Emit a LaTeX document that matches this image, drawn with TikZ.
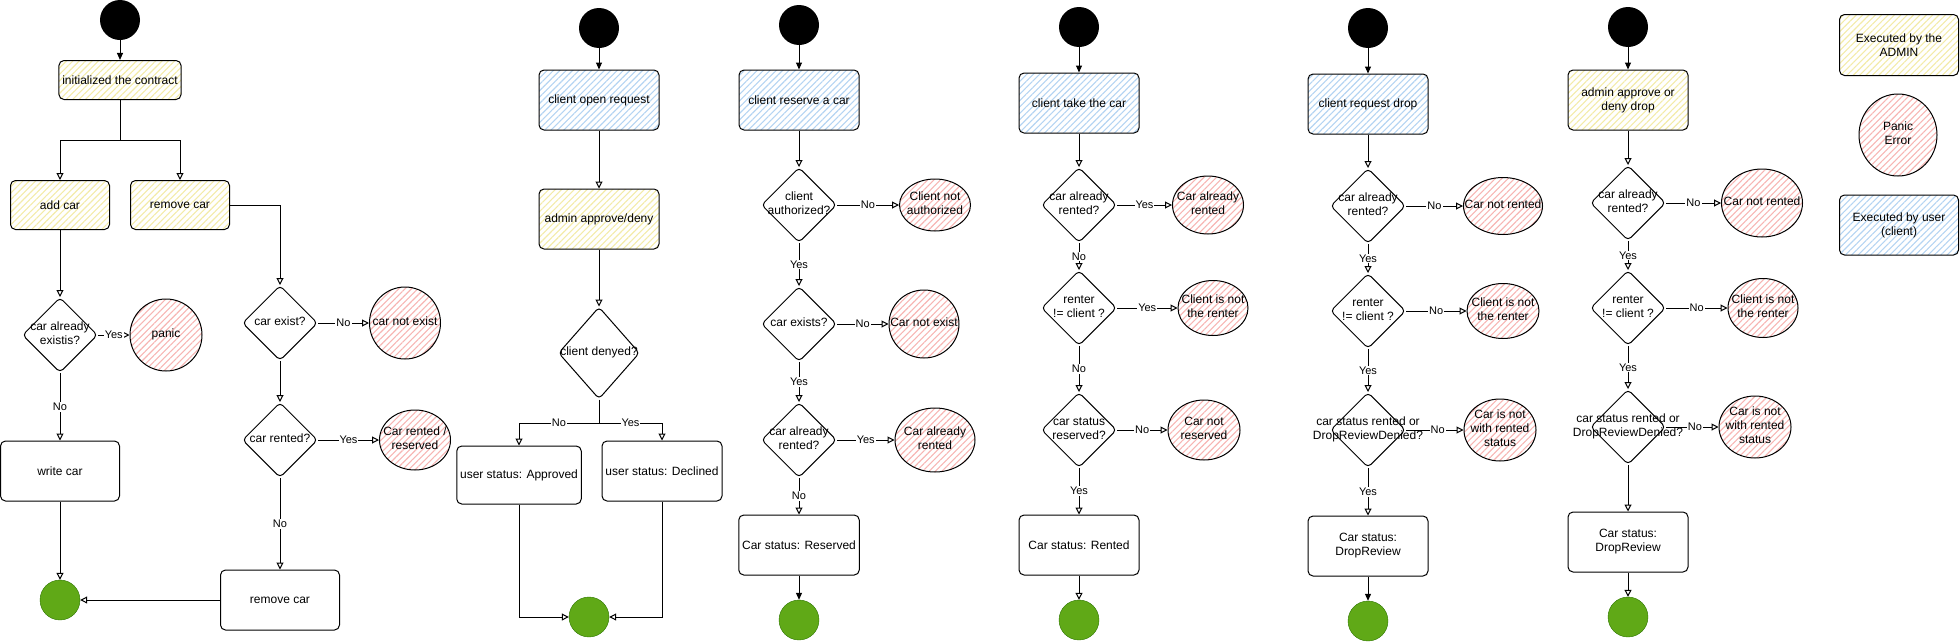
\documentclass[tikz,border=0pt]{standalone}
\usepackage{fontspec}
\setmainfont{Liberation Sans}
\usetikzlibrary{shapes.geometric, arrows.meta, patterns.meta}

\definecolor{admline}{HTML}{F3EBA8}
\definecolor{usrline}{HTML}{B4D4F2}
\definecolor{errline}{HTML}{F7B5B3}
\definecolor{endfill}{HTML}{60A917}
\definecolor{endline}{HTML}{2D7600}

% text that does not widen its shape
\newcommand{\ctext}[1]{\makebox[0pt]{\begin{tabular}{@{}c@{}}#1\end{tabular}}}

\tikzset{
  box/.style={rectangle, draw, rounded corners=5, line width=1pt, minimum width=120, minimum height=60, align=center},
  adminbox/.style={box, pattern={Lines[angle=45, distance=4.5pt, line width=1.1pt]}, pattern color=admline},
  userbox/.style={box, pattern={Lines[angle=45, distance=4.5pt, line width=1.1pt]}, pattern color=usrline},
  decision/.style={diamond, draw, rounded corners=4, line width=1pt, minimum width=75, minimum height=75, inner sep=0pt},
  panicnode/.style 2 args={ellipse, draw, line width=1pt, inner sep=0pt, minimum width=#1, minimum height=#2,
    pattern={Lines[angle=45, distance=4.5pt, line width=1.1pt]}, pattern color=errline},
  initnode/.style={circle, fill=black, minimum size=40, inner sep=0pt},
  finalnode/.style={circle, draw=endline, fill=endfill, minimum size=40, inner sep=0pt},
  flow/.style={line width=1pt, -{Triangle[open, length=7pt, width=7pt]}},
  initflow/.style={line width=1pt, -{Triangle[length=7pt, width=6pt]}},
  lbl/.style={fill=white, inner sep=1pt, font=\fontsize{11}{12}\selectfont}
}

\begin{document}
\begin{tikzpicture}[x=1pt, y=-1pt, every node/.append style={font=\fontsize{12}{14}\selectfont}]
  \useasboundingbox (0, 0) rectangle (1960, 643);

  % add / remove car
  \node (S1) [initnode] at (120, 20) {};
  \node (INIT) [adminbox, minimum width=121, minimum height=39] at (120, 80) {initialized the contract};
  \coordinate (FORK1) at (120, 140);
  \node (ADD) [adminbox, minimum width=99, minimum height=49] at (60, 205) {add car};
  \node (RMV) [adminbox, minimum width=99, minimum height=49] at (180, 205) {remove car};
  \node (Q1) [decision] at (60, 335) {\ctext{car already\\existis?}};
  \node (E1) [panicnode={72}{72}] at (166, 335) {\ctext{panic}};
  \node (WRITE) [box, minimum width=119] at (60, 471) {write car};
  \node (END1) [finalnode] at (60, 600) {};
  \node (Q2) [decision] at (280, 323) {\ctext{car exist?}};
  \node (E2) [panicnode={71}{72}] at (405, 323) {\ctext{car not exist}};
  \node (Q3) [decision] at (280, 440) {\ctext{car rented?}};
  \node (E3) [panicnode={71}{60}] at (415, 440) {\ctext{Car rented /\\reserved}};
  \node (RMV2) [box, minimum width=119] at (280, 600) {remove car};

  \draw (S1) edge[initflow] (INIT);
  \draw[line width=1pt] (INIT) -- (FORK1);
  \draw[flow] (FORK1) -| (ADD);
  \draw[flow] (FORK1) -| (RMV);
  \draw (ADD) edge[flow] (Q1);
  \draw[flow] (RMV.east) -| (Q2);
  \draw (Q1) edge[flow] node[lbl] {Yes} (E1);
  \draw (Q1) edge[flow] node[lbl] {No} (WRITE);
  \draw (WRITE) edge[flow] (END1);
  \draw (Q2) edge[flow] node[lbl] {No} (E2);
  \draw (Q2) edge[flow] (Q3);
  \draw (Q3) edge[flow] node[lbl] {Yes} (E3);
  \draw (Q3) edge[flow] node[lbl] {No} (RMV2);
  \draw (RMV2) edge[flow] (END1);

  % client open request
  \node (S2) [initnode] at (599, 28) {};
  \node (OPEN) [userbox] at (599, 100) {client open request};
  \node (APPR) [adminbox] at (599, 219) {admin approve/deny};
  \node (Q4) [decision, minimum width=81, minimum height=92] at (599, 353) {\ctext{client denyed?}};
  \coordinate (FORK2) at (599, 423);
  \node (APPROVED) [box, minimum height=58] at (519, 475) {user status: Approved};
  \node (DECLINED) [box] at (662, 471) {user status: Declined};
  \node (END2) [finalnode] at (589, 617) {};

  \draw (S2) edge[initflow] (OPEN);
  \draw (OPEN) edge[flow] (APPR);
  \draw (APPR) edge[flow] (Q4);
  \draw[line width=1pt] (Q4) -- (FORK2);
  \draw[flow] (FORK2) -| node[lbl, pos=0.25] {No} (APPROVED);
  \draw[flow] (FORK2) -| node[lbl, pos=0.25] {Yes} (DECLINED);
  \draw[flow] (APPROVED) |- (END2);
  \draw[flow] (DECLINED) |- (END2);

  % client reserve a car
  \node (S3) [initnode] at (799, 25) {};
  \node (RESERVE) [userbox] at (799, 100) {client reserve a car};
  \node (Q5) [decision] at (799, 205) {\ctext{client\\authorized?}};
  \node (E5) [panicnode={71}{52}] at (935, 205) {\ctext{Client not\\authorized}};
  \node (Q6) [decision] at (799, 324) {\ctext{car exists?}};
  \node (E6) [panicnode={70}{68}] at (924, 324) {\ctext{Car not exist}};
  \node (Q7) [decision] at (799, 440) {\ctext{car already\\rented?}};
  \node (E7) [panicnode={80}{64}] at (935, 440) {\ctext{Car already\\rented}};
  \node (RESERVED) [box] at (799, 545) {Car status: Reserved};
  \node (END3) [finalnode] at (799, 620) {};

  \draw (S3) edge[initflow] (RESERVE);
  \draw (RESERVE) edge[flow] (Q5);
  \draw (Q5) edge[flow] node[lbl] {No} (E5);
  \draw (Q5) edge[flow] node[lbl] {Yes} (Q6);
  \draw (Q6) edge[flow] node[lbl] {No} (E6);
  \draw (Q6) edge[flow] node[lbl] {Yes} (Q7);
  \draw (Q7) edge[flow] node[lbl] {Yes} (E7);
  \draw (Q7) edge[flow] node[lbl] {No} (RESERVED);
  \draw (RESERVED) edge[initflow] (END3);

  % client take the car
  \node (S4) [initnode] at (1079, 27) {};
  \node (TAKE) [userbox] at (1079, 103) {client take the car};
  \node (Q8) [decision] at (1079, 205) {\ctext{car already\\rented?}};
  \node (E8) [panicnode={71}{58}] at (1208, 205) {\ctext{Car already\\rented}};
  \node (Q9) [decision] at (1079, 308) {\ctext{renter\\!= client ?}};
  \node (E9) [panicnode={70}{55}] at (1213, 308) {\ctext{Client is not\\the renter}};
  \node (Q10) [decision] at (1079, 430) {\ctext{car status\\reserved?}};
  \node (E10) [panicnode={72}{60}] at (1204, 430) {\ctext{Car not\\reserved}};
  \node (RENTED) [box] at (1079, 545) {Car status: Rented};
  \node (END4) [finalnode] at (1079, 620) {};

  \draw (S4) edge[initflow] (TAKE);
  \draw (TAKE) edge[flow] (Q8);
  \draw (Q8) edge[flow] node[lbl] {Yes} (E8);
  \draw (Q8) edge[flow] node[lbl] {No} (Q9);
  \draw (Q9) edge[flow] node[lbl] {Yes} (E9);
  \draw (Q9) edge[flow] node[lbl] {No} (Q10);
  \draw (Q10) edge[flow] node[lbl] {No} (E10);
  \draw (Q10) edge[flow] node[lbl] {Yes} (RENTED);
  \draw (RENTED) edge[flow] (END4);

  % client request drop
  \node (S5) [initnode] at (1368, 28) {};
  \node (DROP) [userbox] at (1368, 104) {client request drop};
  \node (Q11) [decision] at (1368, 206) {\ctext{car already\\rented?}};
  \node (E11) [panicnode={79}{57}] at (1503, 206) {\ctext{Car not rented}};
  \node (Q12) [decision] at (1368, 311) {\ctext{renter\\!= client ?}};
  \node (E12) [panicnode={72}{55}] at (1503, 311) {\ctext{Client is not\\the renter}};
  \node (Q13) [decision] at (1368, 430) {\ctext{car status rented or\\DropReviewDenied?}};
  \node (E13) [panicnode={72}{62}] at (1500, 430) {\ctext{Car is not\\with rented\\status}};
  \node (REVIEW) [box] at (1368, 546) {Car status:\\DropReview};
  \node (END5) [finalnode] at (1368, 621) {};

  \draw (S5) edge[initflow] (DROP);
  \draw (DROP) edge[flow] (Q11);
  \draw (Q11) edge[flow] node[lbl] {No} (E11);
  \draw (Q11) edge[flow] node[lbl] {Yes} (Q12);
  \draw (Q12) edge[flow] node[lbl] {No} (E12);
  \draw (Q12) edge[flow] node[lbl] {Yes} (Q13);
  \draw (Q13) edge[flow] node[lbl, pos=0.55] {No} (E13);
  \draw (Q13) edge[flow] node[lbl] {Yes} (REVIEW);
  \draw (REVIEW) edge[initflow] (END5);

  % admin approve or deny drop
  \node (S6) [initnode] at (1628, 27) {};
  \node (ADMDROP) [adminbox] at (1628, 100) {admin approve or\\deny drop};
  \node (Q14) [decision] at (1628, 203) {\ctext{car already\\rented?}};
  \node (E14) [panicnode={81}{68}] at (1762, 203) {\ctext{Car not rented}};
  \node (Q15) [decision] at (1628, 308) {\ctext{renter\\!= client ?}};
  \node (E15) [panicnode={70}{59}] at (1763, 308) {\ctext{Client is not\\the renter}};
  \node (Q16) [decision] at (1628, 427) {\ctext{car status rented or\\DropReviewDenied?}};
  \node (E16) [panicnode={72}{62}] at (1755, 427) {\ctext{Car is not\\with rented\\status}};
  \node (REVIEW2) [box] at (1628, 542) {Car status:\\DropReview};
  \node (END6) [finalnode] at (1628, 617) {};

  \draw (S6) edge[initflow] (ADMDROP);
  \draw (ADMDROP) edge[flow] (Q14);
  \draw (Q14) edge[flow] node[lbl] {No} (E14);
  \draw (Q14) edge[flow] node[lbl] {Yes} (Q15);
  \draw (Q15) edge[flow] node[lbl] {No} (E15);
  \draw (Q15) edge[flow] node[lbl] {Yes} (Q16);
  \draw (Q16) edge[flow] node[lbl, pos=0.55] {No} (E16);
  \draw (Q16) edge[flow] (REVIEW2);
  \draw (REVIEW2) edge[flow] (END6);

  % legend
  \node (LEGADM) [adminbox, minimum width=119, minimum height=61] at (1899, 45) {Executed by the\\ADMIN};
  \node (LEGERR) [panicnode={78}{82}] at (1898, 135) {\ctext{Panic\\Error}};
  \node (LEGUSR) [userbox, minimum width=119] at (1899, 225) {Executed by user\\(client)};
\end{tikzpicture}
\end{document}
